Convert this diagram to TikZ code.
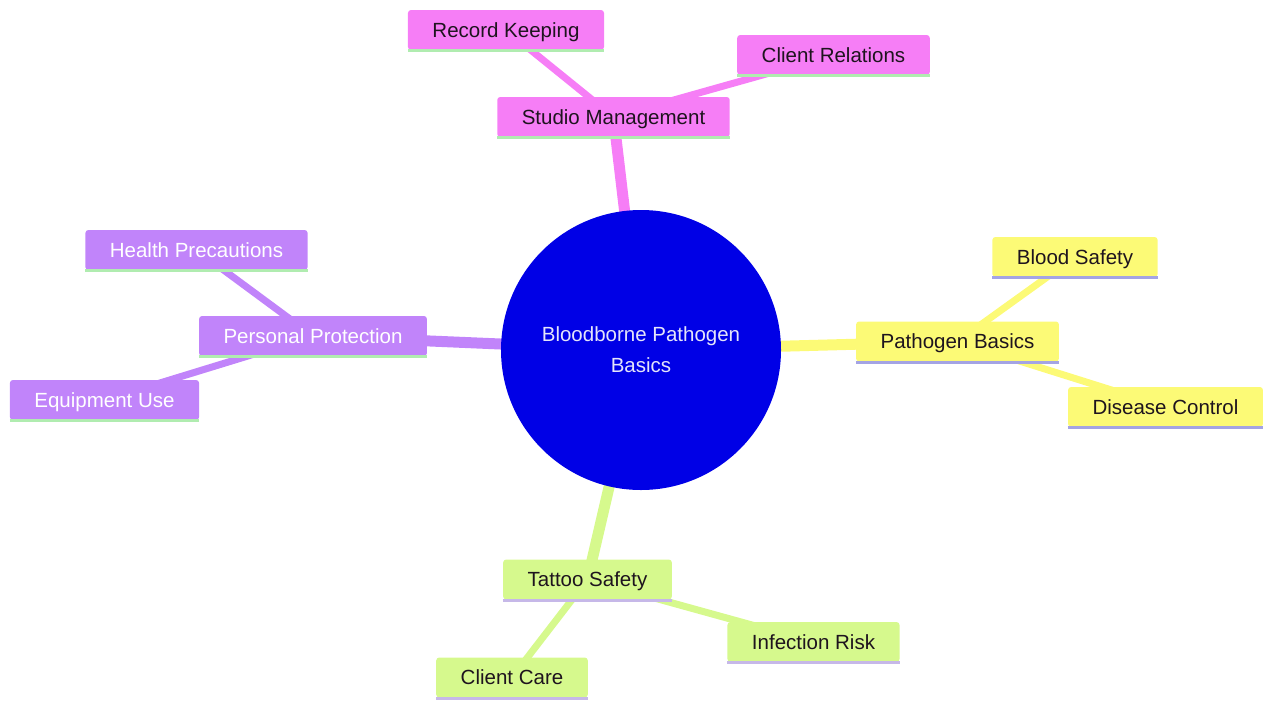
\documentclass[tikz,border=0pt]{standalone}
\usepackage{fontspec}
\setmainfont{Liberation Sans}
\usetikzlibrary{backgrounds}
\definecolor{pinkfill}{RGB}{246,126,246}
\definecolor{purplefill}{RGB}{193,132,250}
\definecolor{yellowfill}{RGB}{252,250,118}
\definecolor{greenfill}{RGB}{214,249,141}
\definecolor{rootblue}{RGB}{0,0,230}
\definecolor{roottext}{RGB}{228,228,250}
\definecolor{greenline}{RGB}{176,236,176}
\definecolor{blueline}{RGB}{164,164,228}
\definecolor{lilacline}{RGB}{198,184,232}
\definecolor{darktext}{RGB}{30,20,30}

\begin{document}
\begin{tikzpicture}[x=1pt,y=-1pt]
	\tikzset{mybox/.style={rectangle,rounded corners=3pt,inner xsep=24.5pt,
		minimum height=40pt,text height=18.5pt,text depth=4.4pt,text=darktext,
		font=\fontsize{20.5}{24}\selectfont}}
	\def\mainw{11pt} \def\subw{7pt}
	\useasboundingbox (0,0) rectangle (1264,702);
	% centre
	\node[circle,fill=rootblue,minimum size=280pt,align=center,text=roottext,
		font=\fontsize{20.5}{31}\selectfont] (root) at (641,350) {Bloodborne Pathogen\\Basics};
	% studio branch
	\node[mybox,fill=pinkfill] (SM) at (613.5,117) {Studio Management};
	\node[mybox,fill=pinkfill] (RK) at (506,30) {Record Keeping};
	\node[mybox,fill=pinkfill] (CR) at (833.5,55) {Client Relations};
	% protection branch
	\node[mybox,fill=purplefill,text=white] (PP) at (313,336) {Personal Protection};
	\node[mybox,fill=purplefill,text=white] (HP) at (196.5,250) {Health Precautions};
	\node[mybox,fill=purplefill,text=white] (EU) at (104.5,400) {Equipment Use};
	% pathogen branch
	\node[mybox,fill=yellowfill] (PB) at (957.5,341.5) {Pathogen Basics};
	\node[mybox,fill=yellowfill] (BS) at (1075,257) {Blood Safety};
	\node[mybox,fill=yellowfill] (DC) at (1165.5,407) {Disease Control};
	% tattoo branch
	\node[mybox,fill=greenfill] (TS) at (587.5,579.5) {Tattoo Safety};
	\node[mybox,fill=greenfill] (IR) at (813.5,642) {Infection Risk};
	\node[mybox,fill=greenfill] (CC) at (512,677.5) {Client Care};
	\begin{scope}[on background layer]
		\draw[pinkfill,line width=\mainw] (root.center)--(SM.center);
		\draw[purplefill,line width=\mainw] (root.center)--(PP.center);
		\draw[yellowfill,line width=\mainw] (root.center)--(PB.center);
		\draw[greenfill,line width=\mainw] (root.center)--(TS.center);
		\draw[pinkfill,line width=\subw] (RK.center)--(SM.center)--(CR.center);
		\draw[purplefill,line width=\subw] (HP.center)--(PP.center)--(EU.center);
		\draw[yellowfill,line width=\subw] (BS.center)--(PB.center)--(DC.center);
		\draw[greenfill,line width=\subw] (CC.center)--(TS.center)--(IR.center);
	\end{scope}
	\foreach \n/\c in {SM/greenline,RK/greenline,CR/greenline,PP/greenline,HP/greenline,
		EU/greenline,PB/blueline,BS/blueline,DC/blueline,TS/lilacline,IR/lilacline,CC/lilacline}
	\draw[\c,line width=3pt] ([yshift=-0.5pt]\n.south west)--([yshift=-0.5pt]\n.south east);
\end{tikzpicture}
\end{document}
